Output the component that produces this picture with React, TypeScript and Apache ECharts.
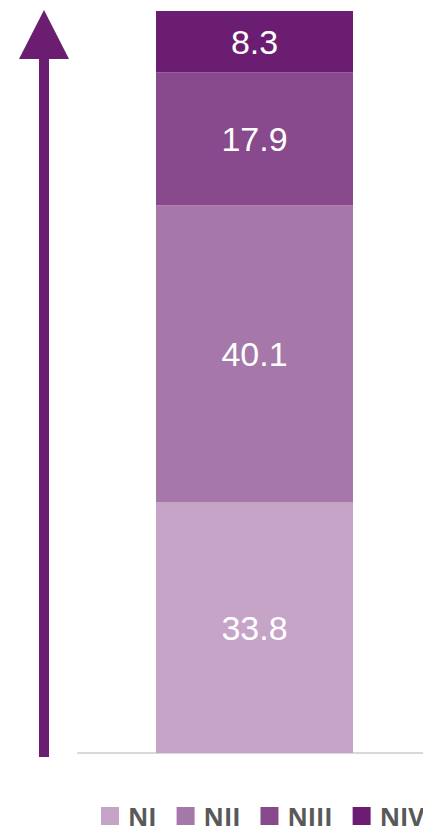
import React, { useEffect, useRef } from "react";
import * as echarts from "echarts";

const categories = [""];
const seriesNames = ["NI", "NII", "NIII", "NIV"];
const valuesNI = [33.8];
const valuesNII = [40.1];
const valuesNIII = [17.9];
const valuesNIV = [8.3];
const colors = ["#c5a4c7", "#a677a9", "#884a8c", "#6b1d72"];

export default function App() {
  const ref = useRef<HTMLDivElement>(null);
  useEffect(() => {
    document.body.style.margin = "0";
    const chart = echarts.init(ref.current!, null, { renderer: "svg" });
    const seriesData = [valuesNI, valuesNII, valuesNIII, valuesNIV];
    chart.setOption({
      animation: false,
      grid: { left: 78, right: 0, top: 11, bottom: 75 },
      xAxis: {
        type: "category",
        data: categories,
        axisLine: { show: true, lineStyle: { color: "#d9d9d9", width: 2 } },
        axisTick: { show: false },
        axisLabel: { show: false },
      },
      yAxis: {
        type: "value",
        min: 0,
        max: 100.1,
        show: false,
        splitLine: { show: false },
      },
      legend: {
        data: seriesNames,
        left: 101,
        top: 802,
        width: 800,
        padding: 0,
        itemWidth: 18,
        itemHeight: 18,
        itemGap: 20,
        icon: "rect",
        textStyle: {
          fontSize: 25,
          lineHeight: 20,
          fontWeight: "bold",
          color: "#595959",
          fontFamily: "Open Sans",
          padding: [0, 0, 8, 4],
        },
      },
      series: seriesNames.map((name, i) => ({
        name,
        type: "bar",
        stack: "total",
        barWidth: 197,
        data: seriesData[i],
        itemStyle: { color: colors[i] },
        label: {
          show: true,
          position: "inside",
          color: "#ffffff",
          fontSize: 34,
          fontFamily: "Liberation Sans",
        },
      })),
      graphic: [
        {
          type: "rect",
          shape: { x: 39, y: 58, width: 10, height: 699 },
          style: { fill: "#6b1d72" },
        },
        {
          type: "polygon",
          shape: { points: [[44, 10], [69, 59], [19, 59]] },
          style: { fill: "#6b1d72" },
        },
      ],
    });
    return () => chart.dispose();
  }, []);
  return (
    <div style={{ width: 423, height: 828, overflow: "hidden" }}>
      <div ref={ref} style={{ width: 431, height: 828 }} />
    </div>
  );
}
